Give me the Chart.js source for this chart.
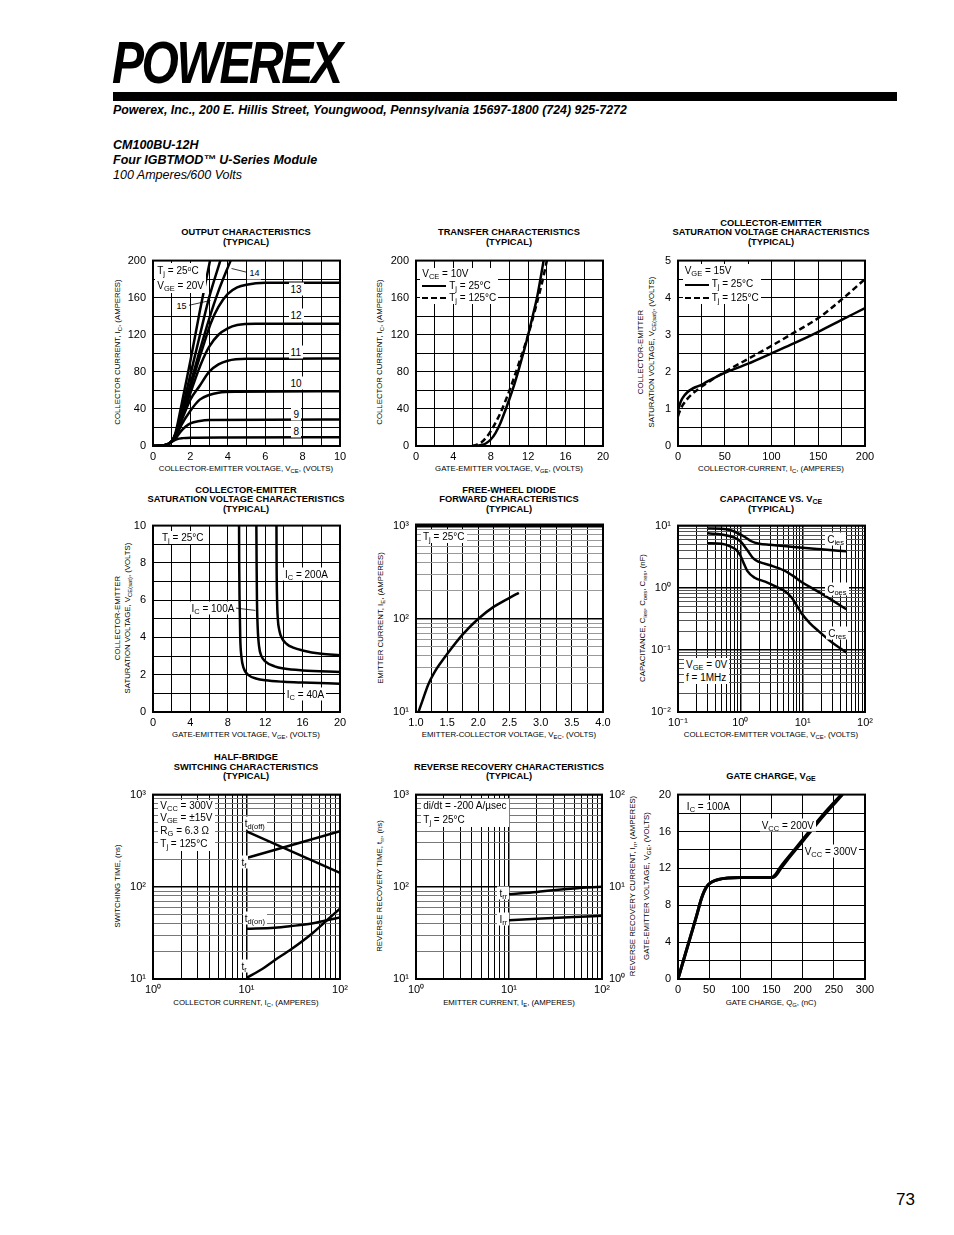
<!DOCTYPE html>
<html><head><meta charset="utf-8">
<script src="https://cdn.jsdelivr.net/npm/chart.js"></script>
<style>
body{margin:0;width:954px;height:1235px;position:relative;background:#fff;font-family:"Liberation Sans",Arial,Helvetica,sans-serif;color:#000;overflow:hidden}
canvas{position:absolute}
.logo{position:absolute;left:112px;top:33px;font:italic bold 60px/60px "Liberation Sans",Arial,sans-serif;letter-spacing:-3px;transform-origin:0 0;transform:scaleX(0.8);white-space:nowrap}
.bar{position:absolute;left:113px;top:92px;width:784px;height:9px;background:#000}
.hd{position:absolute;left:113px;white-space:nowrap;transform-origin:0 50%}
.ttl{position:absolute;font:bold 9.3px/10px "Liberation Sans",Arial,sans-serif;white-space:nowrap;transform:translateX(-50%)}
.xt{position:absolute;font:7.8px/8px "Liberation Sans",Arial,sans-serif;white-space:nowrap;transform:translate(-50%,-50%)}
.yt{position:absolute;font:7.8px/8px "Liberation Sans",Arial,sans-serif;white-space:nowrap;transform:translate(-50%,-50%) rotate(-90deg)}
.ann{position:absolute;font:10px/13px "Liberation Sans",Arial,sans-serif;white-space:nowrap;background:#fff;padding:0 2px;z-index:5}
.lbl{transform:translateY(-50%)}
sub{font-size:0.75em;vertical-align:-0.3em;line-height:0}
sup{font-size:0.7em;vertical-align:0.5em;line-height:0}
.ls{display:inline-block;width:24px;border-top:2.5px solid #000;vertical-align:middle;margin-right:3px}
.ld{display:inline-block;width:24px;border-top:2.5px dashed #000;vertical-align:middle;margin-right:3px}
</style></head><body>

<div class="logo">POWEREX</div>
<div class="bar"></div>
<div class="hd" style="top:103px;font:italic bold 12.5px/14px 'Liberation Sans',Arial,sans-serif;transform:scaleX(0.99)">Powerex, Inc., 200 E. Hillis Street, Youngwood, Pennsylvania 15697-1800 (724) 925-7272</div>
<div class="hd" style="top:138px;font:italic bold 12.5px/14px 'Liberation Sans',Arial,sans-serif">CM100BU-12H</div>
<div class="hd" style="top:153px;font:italic bold 12.5px/14px 'Liberation Sans',Arial,sans-serif">Four IGBTMOD™ U-Series Module</div>
<div class="hd" style="top:168px;font:italic 12.5px/14px 'Liberation Sans',Arial,sans-serif">100 Amperes/600 Volts</div>
<div style="position:absolute;left:896px;top:1190px;font:17px/20px 'Liberation Sans',Arial,sans-serif">73</div>

<!-- chart titles -->
<div class="ttl" style="left:246px;top:227px">OUTPUT CHARACTERISTICS</div>
<div class="ttl" style="left:246px;top:237px">(TYPICAL)</div>
<div class="ttl" style="left:509px;top:227px">TRANSFER CHARACTERISTICS</div>
<div class="ttl" style="left:509px;top:237px">(TYPICAL)</div>
<div class="ttl" style="left:771px;top:218px">COLLECTOR-EMITTER</div>
<div class="ttl" style="left:771px;top:227px">SATURATION VOLTAGE CHARACTERISTICS</div>
<div class="ttl" style="left:771px;top:237px">(TYPICAL)</div>

<div class="ttl" style="left:246px;top:484.5px">COLLECTOR-EMITTER</div>
<div class="ttl" style="left:246px;top:494px">SATURATION VOLTAGE CHARACTERISTICS</div>
<div class="ttl" style="left:246px;top:503.5px">(TYPICAL)</div>
<div class="ttl" style="left:509px;top:484.5px">FREE-WHEEL DIODE</div>
<div class="ttl" style="left:509px;top:494px">FORWARD CHARACTERISTICS</div>
<div class="ttl" style="left:509px;top:503.5px">(TYPICAL)</div>
<div class="ttl" style="left:771px;top:494px">CAPACITANCE VS. V<sub>CE</sub></div>
<div class="ttl" style="left:771px;top:503.5px">(TYPICAL)</div>

<div class="ttl" style="left:246px;top:752px">HALF-BRIDGE</div>
<div class="ttl" style="left:246px;top:761.5px">SWITCHING CHARACTERISTICS</div>
<div class="ttl" style="left:246px;top:771px">(TYPICAL)</div>
<div class="ttl" style="left:509px;top:761.5px">REVERSE RECOVERY CHARACTERISTICS</div>
<div class="ttl" style="left:509px;top:771px">(TYPICAL)</div>
<div class="ttl" style="left:771px;top:771px">GATE CHARGE, V<sub>GE</sub></div>

<!-- x axis titles -->
<div class="xt" style="left:246px;top:469px">COLLECTOR-EMITTER VOLTAGE, V<sub>CE</sub>, (VOLTS)</div>
<div class="xt" style="left:509px;top:469px">GATE-EMITTER VOLTAGE, V<sub>GE</sub>, (VOLTS)</div>
<div class="xt" style="left:771px;top:469px">COLLECTOR-CURRENT, I<sub>C</sub>, (AMPERES)</div>
<div class="xt" style="left:246px;top:735px">GATE-EMITTER VOLTAGE, V<sub>GE</sub>, (VOLTS)</div>
<div class="xt" style="left:509px;top:735px">EMITTER-COLLECTOR VOLTAGE, V<sub>EC</sub>, (VOLTS)</div>
<div class="xt" style="left:771px;top:735px">COLLECTOR-EMITTER VOLTAGE, V<sub>CE</sub>, (VOLTS)</div>
<div class="xt" style="left:246px;top:1003px">COLLECTOR CURRENT, I<sub>C</sub>, (AMPERES)</div>
<div class="xt" style="left:509px;top:1003px">EMITTER CURRENT, I<sub>E</sub>, (AMPERES)</div>
<div class="xt" style="left:771px;top:1003px">GATE CHARGE, Q<sub>G</sub>, (nC)</div>

<!-- y axis titles -->
<div class="yt" style="left:118px;top:352px">COLLECTOR CURRENT, I<sub>C</sub>, (AMPERES)</div>
<div class="yt" style="left:380px;top:352px">COLLECTOR CURRENT, I<sub>C</sub>, (AMPERES)</div>
<div class="yt" style="left:641px;top:352px">COLLECTOR-EMITTER</div>
<div class="yt" style="left:652px;top:352px">SATURATION VOLTAGE, V<sub>CE(sat)</sub>, (VOLTS)</div>
<div class="yt" style="left:118px;top:618px">COLLECTOR-EMITTER</div>
<div class="yt" style="left:128px;top:618px">SATURATION VOLTAGE, V<sub>CE(sat)</sub>, (VOLTS)</div>
<div class="yt" style="left:381px;top:618px">EMITTER CURRENT, I<sub>E</sub>, (AMPERES)</div>
<div class="yt" style="left:643px;top:618px">CAPACITANCE, C<sub>ies</sub>, C<sub>oes</sub>, C<sub>res</sub>, (nF)</div>
<div class="yt" style="left:118px;top:886px">SWITCHING TIME, (ns)</div>
<div class="yt" style="left:380px;top:886px">REVERSE RECOVERY TIME, t<sub>rr</sub>, (ns)</div>
<div class="yt" style="left:633px;top:886px">REVERSE RECOVERY CURRENT, I<sub>rr</sub>, (AMPERES)</div>
<div class="yt" style="left:647px;top:886px">GATE-EMITTER VOLTAGE, V<sub>GE</sub>, (VOLTS)</div>

<script>
// ---------------- DATA ----------------
// Chart 1: output characteristics, [VCE (V), IC (A)] per VGE
const out8  = [[0,0],[0.5,0.5],[0.8,2],[1,4.5],[1.3,7.5],[1.6,8.5],[2,9],[4,9.3],[10,9.5]];
const out9  = [[0,0],[0.5,0.5],[0.8,2],[1,5],[1.2,8],[1.5,16],[1.75,21],[2,24.5],[2.5,27],[3,28],[10,28.5]];
const out10 = [[0,0],[0.5,0.5],[0.8,2],[1,5],[1.2,9],[1.5,22],[2,38],[2.5,50],[3,55],[3.5,57.5],[4.5,58.5],[10,59]];
const out11 = [[0,0],[0.5,0.5],[0.8,2],[1,5],[1.2,10],[1.5,26],[2,50],[2.5,65],[3,80],[3.5,88],[4,92],[5,94],[10,94.5]];
const out12 = [[0,0],[0.5,0.5],[0.8,2],[1,5],[1.2,11],[1.5,28],[2,57],[2.4,80],[2.7,95],[3,107],[3.5,120],[4,127],[4.5,130.5],[5.5,132],[10,132]];
const out13 = [[0,0],[0.5,0.5],[0.8,2],[1,5],[1.2,12],[1.5,30],[2,63],[2.5,96],[2.8,115],[3.1,133],[3.5,150],[4,164],[4.5,171],[5,174],[6,176],[10,176]];
const out14 = [[0,0],[0.5,0.5],[0.8,2],[1,5],[1.2,12.5],[1.5,32],[2,67],[2.5,103],[3,137],[3.5,167],[4.15,200]];
const out15 = [[0,0],[0.5,0.5],[0.8,2],[1,5],[1.2,13],[1.5,35],[2,77],[2.5,119],[3,160],[3.6,200]];
const out20 = [[0,0],[0.5,0.5],[0.8,2],[1,5],[1.2,14],[1.5,42],[2,92],[2.5,145],[3.05,200]];
const c1XLabels = [0,2,4,6,8,10];
const c1YLabels = [0,40,80,120,160,200];

// Chart 2: transfer characteristics, [VGE (V), IC (A)]
const tr25  = [[6.4,0],[7,1],[7.5,3],[8,7],[8.5,14],[9,24],[9.5,37],[10,51],[10.5,66],[11,83],[11.5,101],[12,120],[12.5,141],[13,163],[13.65,200]];
const tr125 = [[6.0,0],[6.5,1.5],[7,4],[7.5,9],[8,16],[8.5,25],[9,35],[9.5,47],[10,60],[10.5,74],[11,89],[11.5,104],[12,120],[12.5,138],[13,157],[13.5,177],[14,200]];
const c2XLabels = [0,4,8,12,16,20];
const c2YLabels = [0,40,80,120,160,200];

// Chart 3: VCE(sat) vs IC, [IC (A), VCE(sat) (V)]
const sat25  = [[0,0.95],[1,1.05],[3,1.2],[5,1.3],[10,1.45],[15,1.54],[20,1.6],[25,1.65],[30,1.72],[40,1.85],[50,1.97],[75,2.22],[100,2.5],[125,2.78],[150,3.08],[175,3.4],[200,3.72]];
const sat125 = [[0,0.8],[1,0.88],[3,1.0],[5,1.1],[10,1.27],[15,1.4],[20,1.5],[25,1.6],[30,1.68],[40,1.85],[50,2.0],[75,2.35],[100,2.7],[125,3.07],[150,3.45],[175,3.95],[200,4.5]];
const c3XLabels = [0,50,100,150,200];
const c3YLabels = [0,1,2,3,4,5];

// Chart 4: VCE(sat) vs VGE, [VGE (V), VCE(sat) (V)]
const vs40  = [[9.2,10.5],[9.22,8],[9.26,6],[9.33,4],[9.45,3],[9.7,2.35],[10.3,1.95],[11,1.8],[12,1.7],[14,1.62],[16,1.58],[20,1.52]];
const vs100 = [[11.05,10.5],[11.08,8],[11.12,6],[11.2,4.5],[11.35,3.5],[11.6,3.0],[12,2.72],[13,2.45],[14,2.33],[16,2.23],[20,2.15]];
const vs200 = [[13.2,10.5],[13.22,8],[13.27,6],[13.35,5],[13.5,4.4],[13.8,3.95],[14.3,3.65],[15,3.45],[16,3.3],[18,3.12],[20,3.05]];
const c4XLabels = [0,4,8,12,16,20];
const c4YLabels = [0,2,4,6,8,10];

// Chart 5: free-wheel diode, [VEC (V), IE (A)]
const fwd = [[1.04,10],[1.1,13],[1.2,20],[1.3,27],[1.4,34],[1.5,42],[1.75,68],[2.0,100],[2.25,135],[2.5,168],[2.65,190]];
const c5XLabels = [1.0,1.5,2.0,2.5,3.0,3.5,4.0];
const c5YLabels = [10,100,1000];
const c5YTexts  = ['10¹','10²','10³'];

// Chart 6: capacitance, [VCE (V), C (nF)]
const cies = [[0.3,9.0],[0.5,8.9],[0.7,8.4],[0.9,7.6],[1.2,6.5],[1.5,5.6],[2,5.1],[3,4.9],[5,4.7],[10,4.4],[20,4.15],[50,3.85]];
const coes = [[0.3,7.5],[0.5,7.2],[0.8,6.4],[1,5.6],[1.3,4.0],[1.6,3.0],[2,2.6],[3,2.3],[5,1.9],[7,1.55],[10,1.2],[15,0.95],[23,0.74],[50,0.45]];
const cres = [[0.3,5.2],[0.5,5.1],[0.7,4.6],[0.85,4.1],[1,3.3],[1.15,2.4],[1.3,1.85],[1.7,1.45],[2.5,1.25],[3.6,1.06],[5,0.9],[6.7,0.69],[8,0.52],[9.7,0.38],[13,0.27],[18,0.2],[30,0.13],[50,0.091]];
const c6XLabels = [0.1,1,10,100];
const c6XTexts  = ['10⁻¹','10⁰','10¹','10²'];
const c6YLabels = [0.01,0.1,1,10];
const c6YTexts  = ['10⁻²','10⁻¹','10⁰','10¹'];

// Chart 7: switching times, [IC (A), t (ns)]
const tdoff = [[10,400],[100,142]];
const tfall = [[10,205],[100,400]];
const tdon  = [[10,35],[20,36],[30,37.5],[50,40],[70,43],[100,46.5]];
const trise = [[10,10.3],[15,13],[20,16],[30,21],[50,31],[70,42],[100,58]];
const c7XLabels = [1,10,100];
const c7XTexts  = ['10⁰','10¹','10²'];
const c7YLabels = [10,100,1000];
const c7YTexts  = ['10¹','10²','10³'];

// Chart 8: reverse recovery, trr [IE (A), ns] and Irr [IE (A), A]
const trr = [[10,83],[20,88],[30,92],[50,96],[100,100]];
const irr = [[10,4.35],[20,4.5],[50,4.7],[100,4.85]];
const c8XLabels = [1,10,100];
const c8XTexts  = ['10⁰','10¹','10²'];
const c8YLabels = [10,100,1000];
const c8YTexts  = ['10¹','10²','10³'];
const c8Y2Labels = [1,10,100];
const c8Y2Texts  = ['10⁰','10¹','10²'];

// Chart 9: gate charge, [QG (nC), VGE (V)]
const gc200 = [[0,0],[10,2.3],[20,4.6],[30,6.9],[37,8.6],[42,9.5],[47,10.1],[55,10.55],[65,10.8],[80,10.95],[100,11],[150,11],[156,11.3],[163,12],[172,12.8],[200,15.1],[230,17.6],[262,20]];
const gc300 = [[0,0],[10,2.3],[20,4.6],[30,6.9],[37,8.6],[42,9.5],[47,10.1],[55,10.55],[65,10.8],[80,10.95],[100,11],[152,11],[158,11.3],[165,12],[174,12.8],[202,15.1],[232,17.6],[264,20]];
const c9XLabels = [0,50,100,150,200,250,300];
const c9YLabels = [0,4,8,12,16,20];

// ---------------- HELPERS ----------------
const FONT = '"Liberation Sans", Arial, Helvetica, sans-serif';
Chart.defaults.font.family = FONT;
Chart.defaults.color = '#000';
const PADL = 50, PADT = 12, PADR = 30, PADB = 24;

function steps(min, max, step){ const a=[]; const n=Math.round((max-min)/step); for(let i=0;i<=n;i++) a.push(+(min+i*step).toFixed(6)); return a; }
function logSteps(min, max){ const a=[]; for(let e=Math.floor(Math.log10(min)+1e-9); e<=Math.ceil(Math.log10(max)); e++){ for(let m=1;m<10;m++){ const v=+(m*Math.pow(10,e)).toPrecision(6); if(v>=min*0.9999 && v<=max*1.0001) a.push(v);} } return a; }
function isPow10(v){ const l=Math.log10(v); return Math.abs(l-Math.round(l))<1e-6; }
function near(a,b){ return Math.abs(a-b) <= Math.abs(b)*1e-6 + 1e-9; }

function axis(o){
  const vertical = (o.pos==='left' || o.pos==='right');
  const grid = o.type==='logarithmic' ? logSteps(o.min,o.max) : steps(o.min,o.max,o.step);
  const texts = o.texts || o.labels.map(v => o.fmt ? o.fmt(v) : String(v));
  return {
    type:o.type, position:o.pos, min:o.min, max:o.max,
    afterBuildTicks: s => { s.ticks = grid.map(v => ({value:v})); },
    afterFit: s => { if(vertical) s.width = o.fit; else s.height = o.fit; },
    ticks:{ autoSkip:false, maxRotation:0, minRotation:0, padding:o.pad, font:{size:11, family:FONT}, color:'#000',
      callback: v => { const i=o.labels.findIndex(l=>near(v,l)); return i<0 ? '' : texts[i]; } },
    grid:{ display:o.gridOn!==false, drawTicks:false,
      color: c => { if(o.type!=='logarithmic') return '#000'; return isPow10(c.tick.value) ? '#000' : (o.minor||'#000'); },
      lineWidth: c => { if(o.type!=='logarithmic') return 1; return isPow10(c.tick.value) ? 1.5 : 1; } },
    border:{ display:false }
  };
}
function ds(pairs, opt){ return Object.assign({ data:pairs.map(p=>({x:p[0],y:p[1]})), borderColor:'#000', borderWidth:2.5, pointRadius:0, fill:false, cubicInterpolationMode:'monotone', tension:0.4 }, opt||{}); }

const framePlugin = {
  id:'frame',
  afterDatasetsDraw(chart, args, opts){
    const {ctx, chartArea:a} = chart;
    ctx.save();
    ctx.strokeStyle='#000'; ctx.lineWidth=2;
    ctx.strokeRect(a.left, a.top, a.right-a.left, a.bottom-a.top);
    if(opts.topW){ ctx.lineWidth=opts.topW; ctx.beginPath(); ctx.moveTo(a.left-1,a.top); ctx.lineTo(a.right+1,a.top); ctx.stroke(); }
    (opts.leaders||[]).forEach(l => {
      const xs=chart.scales.x, ys=chart.scales.y;
      ctx.lineWidth=0.8; ctx.beginPath();
      ctx.moveTo(xs.getPixelForValue(l[0]), ys.getPixelForValue(l[1]));
      ctx.lineTo(xs.getPixelForValue(l[2]), ys.getPixelForValue(l[3]));
      ctx.stroke();
    });
    ctx.restore();
  }
};
Chart.register(framePlugin);

function mk(box, datasets, scales, frame){
  const padR = box.rightAxis ? 0 : PADR;
  const extraR = box.rightAxis ? box.rightAxis : 0;
  const w = box.R-box.L+PADL+padR+extraR, h = box.B-box.T+PADT+PADB;
  const c = document.createElement('canvas');
  c.width = w; c.height = h;
  c.style.left = (box.L-PADL)+'px'; c.style.top = (box.T-PADT)+'px';
  c.style.width = w+'px'; c.style.height = h+'px';
  document.body.appendChild(c);
  const chart = new Chart(c, {
    type:'line',
    data:{ datasets },
    options:{ responsive:false, animation:false, events:[], devicePixelRatio:1,
      layout:{ padding:{ top:PADT, right:padR, left:0, bottom:0 } },
      plugins:{ legend:{display:false}, tooltip:{enabled:false}, frame: frame||{} },
      scales }
  });
  chart._ox = box.L-PADL; chart._oy = box.T-PADT;
  return chart;
}
// place an HTML annotation at data coordinates (left edge at x; top at y, or vertically centred if cls has lbl)
function ann(chart, x, y, html, cls){
  const d = document.createElement('div');
  d.className = 'ann ' + (cls||'');
  d.innerHTML = html;
  d.style.left = (chart._ox + chart.scales.x.getPixelForValue(x)) + 'px';
  d.style.top  = (chart._oy + chart.scales.y.getPixelForValue(y)) + 'px';
  document.body.appendChild(d);
  return d;
}

// ---------------- CHARTS ----------------
// 1 Output characteristics
const ch1 = mk({L:153,T:259,R:340,B:446},
  [out8,out9,out10,out11,out12,out13,out14,out15,out20].map(d=>ds(d)),
  { x: axis({type:'linear',pos:'bottom',min:0,max:10,step:1,labels:c1XLabels,fit:PADB,pad:4}),
    y: axis({type:'linear',pos:'left',min:0,max:200,step:20,labels:c1YLabels,fit:PADL,pad:7}) },
  { leaders:[[4.2,191.5,5.0,187.5],[1.75,151,3.08,157]] });
ann(ch1, 0.12, 197, 'T<sub>j</sub> = 25<sup>o</sup>C<br>V<sub>GE</sub> = 20V').style.lineHeight='15px';
ann(ch1, 5.05, 187, '14', 'lbl').style.fontSize='9px';
ann(ch1, 1.15, 151, '15', 'lbl').style.fontSize='9px';
[['13',169],['12',141],['11',101.5],['10',67.5],['9',35],['8',16]].forEach(p=>{ const d=ann(ch1, p[0].length>1?7.25:7.4, p[1], p[0], 'lbl'); d.style.fontSize='10px'; });

// 2 Transfer characteristics
const ch2 = mk({L:416,T:259,R:603,B:446},
  [ds(tr25), ds(tr125,{borderDash:[6,3.5]})],
  { x: axis({type:'linear',pos:'bottom',min:0,max:20,step:2,labels:c2XLabels,fit:PADB,pad:4}),
    y: axis({type:'linear',pos:'left',min:0,max:200,step:20,labels:c2YLabels,fit:PADL,pad:7}) });
ann(ch2, 0.45, 192, 'V<sub>CE</sub> = 10V<br><span class="ls"></span>T<sub>j</sub> = 25°C<br><span class="ld"></span>T<sub>j</sub> = 125°C').style.lineHeight='12px';

// 3 VCE(sat) vs IC
const ch3 = mk({L:678,T:259,R:865,B:446},
  [ds(sat25), ds(sat125,{borderDash:[6,3.5]})],
  { x: axis({type:'linear',pos:'bottom',min:0,max:200,step:25,labels:c3XLabels,fit:PADB,pad:4}),
    y: axis({type:'linear',pos:'left',min:0,max:5,step:0.5,labels:c3YLabels,fit:PADL,pad:7}) });
ann(ch3, 5, 4.91, 'V<sub>GE</sub> = 15V<br><span class="ls"></span>T<sub>j</sub> = 25°C<br><span class="ld"></span>T<sub>j</sub> = 125°C').style.lineHeight='13.5px';

// 4 VCE(sat) vs VGE
const ch4 = mk({L:153,T:524,R:340,B:712},
  [ds(vs40), ds(vs100), ds(vs200)],
  { x: axis({type:'linear',pos:'bottom',min:0,max:20,step:2,labels:c4XLabels,fit:PADB,pad:4}),
    y: axis({type:'linear',pos:'left',min:0,max:10,step:1,labels:c4YLabels,fit:PADL,pad:7}) },
  { leaders:[[8.1,5.62,10.95,5.45]] });
ann(ch4, 0.75, 9.72, 'T<sub>j</sub> = 25°C');
ann(ch4, 13.9, 7.4, 'I<sub>C</sub> = 200A', 'lbl');
ann(ch4, 3.9, 5.6, 'I<sub>C</sub> = 100A', 'lbl');
ann(ch4, 14.1, 0.95, 'I<sub>C</sub> = 40A', 'lbl');

// 5 Free-wheel diode
const ch5 = mk({L:416,T:524,R:603,B:712},
  [ds(fwd)],
  { x: axis({type:'linear',pos:'bottom',min:1,max:4,step:0.25,labels:c5XLabels,fmt:v=>v.toFixed(1),fit:PADB,pad:4}),
    y: axis({type:'logarithmic',pos:'left',min:10,max:1000,labels:c5YLabels,texts:c5YTexts,fit:PADL,pad:7,minor:'#999'}) },
  { topW:4 });
ann(ch5, 1.08, 890, 'T<sub>j</sub> = 25°C');

// 6 Capacitance
const ch6 = mk({L:678,T:524,R:865,B:712},
  [ds(cies), ds(coes), ds(cres)],
  { x: axis({type:'logarithmic',pos:'bottom',min:0.1,max:100,labels:c6XLabels,texts:c6XTexts,fit:PADB,pad:4}),
    y: axis({type:'logarithmic',pos:'left',min:0.01,max:10,labels:c6YLabels,texts:c6YTexts,fit:PADL,pad:7,minor:'#555'}) });
ann(ch6, 23, 6.0, 'C<sub>ies</sub>', 'lbl');
ann(ch6, 23, 0.96, 'C<sub>oes</sub>', 'lbl');
ann(ch6, 24, 0.19, 'C<sub>res</sub>', 'lbl');
ann(ch6, 0.125, 0.075, 'V<sub>GE</sub> = 0V<br>f = 1MHz');

// 7 Switching times
const ch7 = mk({L:153,T:793,R:340,B:979},
  [ds(tdoff), ds(tfall), ds(tdon), ds(trise)],
  { x: axis({type:'logarithmic',pos:'bottom',min:1,max:100,labels:c7XLabels,texts:c7XTexts,fit:PADB,pad:4}),
    y: axis({type:'logarithmic',pos:'left',min:10,max:1000,labels:c7YLabels,texts:c7YTexts,fit:PADL,pad:7,minor:'#777'}) });
ann(ch7, 1.14, 880, 'V<sub>CC</sub> = 300V<br>V<sub>GE</sub> = ±15V<br>R<sub>G</sub> = 6.3 Ω<br>T<sub>j</sub> = 125°C').style.lineHeight='12.7px';
ann(ch7, 9.1, 486, 't<sub>d(off)</sub>', 'lbl');
ann(ch7, 8.4, 185, 't<sub>f</sub>', 'lbl');
ann(ch7, 9.1, 46, 't<sub>d(on)</sub>', 'lbl');
ann(ch7, 8.4, 13.8, 't<sub>r</sub>', 'lbl');

// 8 Reverse recovery
const ch8 = mk({L:416,T:793,R:602,B:979,rightAxis:30},
  [ds(trr), ds(irr,{yAxisID:'y2'})],
  { x: axis({type:'logarithmic',pos:'bottom',min:1,max:100,labels:c8XLabels,texts:c8XTexts,fit:PADB,pad:4}),
    y: axis({type:'logarithmic',pos:'left',min:10,max:1000,labels:c8YLabels,texts:c8YTexts,fit:PADL,pad:7,minor:'#777'}),
    y2: axis({type:'logarithmic',pos:'right',min:1,max:100,labels:c8Y2Labels,texts:c8Y2Texts,fit:30,pad:7,gridOn:false}) });
ann(ch8, 1.14, 905, 'di/dt = -200 A/µsec<br>T<sub>j</sub> = 25°C').style.lineHeight='14px';
ann(ch8, 7.5, 86, 't<sub>rr</sub>', 'lbl');
ann(ch8, 7.5, 45, 'I<sub>rr</sub>', 'lbl');

// 9 Gate charge
const ch9 = mk({L:678,T:793,R:865,B:979},
  [ds(gc200,{borderWidth:3}), ds(gc300,{borderWidth:3})],
  { x: axis({type:'linear',pos:'bottom',min:0,max:300,step:50,labels:c9XLabels,fit:PADB,pad:4}),
    y: axis({type:'linear',pos:'left',min:0,max:20,step:2,labels:c9YLabels,fit:PADL,pad:7}) });
ann(ch9, 11, 19.4, 'I<sub>C</sub> = 100A');
ann(ch9, 131, 16.75, 'V<sub>CC</sub> = 200V', 'lbl');
ann(ch9, 200, 13.9, 'V<sub>CC</sub> = 300V', 'lbl');
</script>
</body></html>
